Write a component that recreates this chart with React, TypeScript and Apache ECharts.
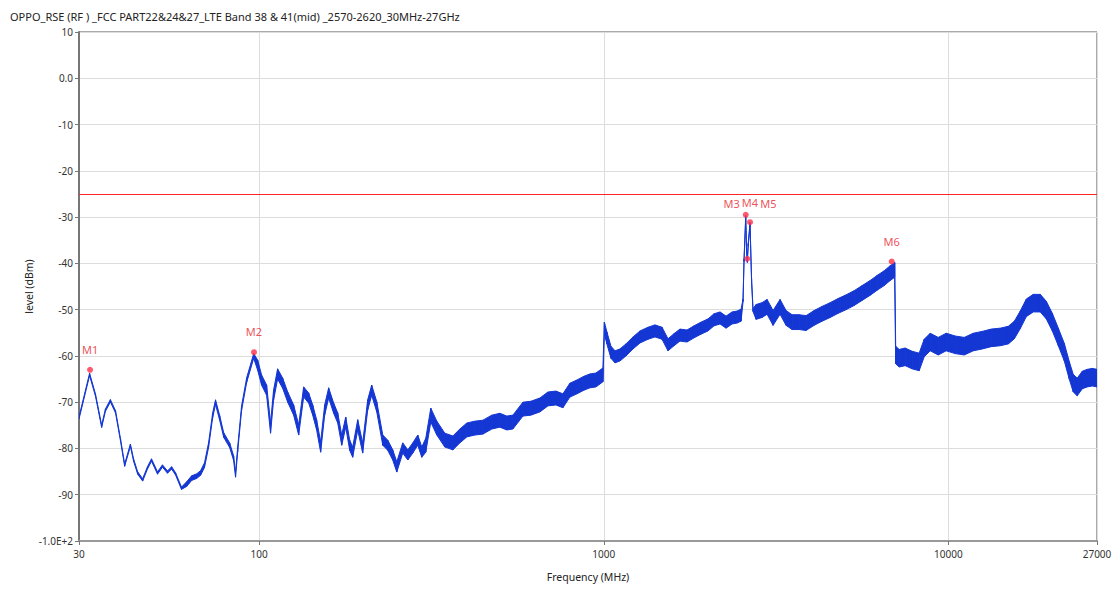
import React, { useEffect, useRef } from "react";
import * as echarts from "echarts";

const titleText =
  "OPPO_RSE (RF ) _FCC PART22&24&27_LTE Band 38 & 41(mid) _2570-2620_30MHz-27GHz";

// Trace: frequency (MHz) and centre level (dBm)
const freqMHz = [
  30, 32.2, 33.5, 34.9, 35.8, 37.0, 38.3, 39.6, 40.7, 42.3,
  43.2, 44.4, 45.9, 47.4, 48.7, 50.7, 52.4, 54.2, 55.7, 57.2,
  59.5, 61.6, 63.7, 65.8, 67.6, 69.4, 71.3, 73.3, 74.7, 76.8,
  78.9, 82.1, 84.3, 85.4, 86.6, 88.9, 92.0, 96.4, 99.0, 101.6,
  105.1, 107.9, 110.1, 113.1, 117.0, 121.0, 125.9, 130.2, 134.6, 139.2,
  143.0, 146.8, 150.8, 154.9, 159.1, 164.5, 169.0, 173.6, 178.3, 183.1,
  186.8, 193.2, 199.7, 206.5, 212.1, 219.4, 228.4, 236.1, 244.1, 250.8,
  261.0, 270.0, 279.1, 288.6, 296.4, 304.4, 314.8, 327.7, 345.7, 364.9,
  382.3, 400.6, 422.6, 445.8, 473.4, 499.4, 523.2, 544.8, 582.7, 614.4,
  652.7, 688.6, 726.3, 761.0, 797.4, 835.8, 876.0, 911.8, 949.0, 994.3,
  1004, 1021, 1049, 1078, 1114, 1160, 1216, 1274, 1344, 1408,
  1476, 1536, 1599, 1664, 1744, 1828, 1915, 2007, 2089, 2175,
  2264, 2357, 2437, 2503, 2536, 2553, 2582, 2596, 2610, 2625,
  2657, 2685, 2711, 2767, 2880, 2978, 3100, 3248, 3381, 3519,
  3688, 3865, 4077, 4301, 4538, 4787, 5051, 5329, 5621, 5931,
  6215, 6513, 6781, 6987, 7033, 7199, 7494, 7850, 8228, 8509,
  8858, 9345, 9858, 10470, 11120, 11810, 12540, 13320, 14150, 14930,
  15540, 16170, 16840, 17640, 18480, 19240, 20030, 20850, 21700, 22430,
  23040, 23660, 24480, 25310, 26170, 27000,
];

const levelDbm = [
  -73.4, -64.0, -68.5, -75.2, -71.7, -69.7, -72.1, -78.2, -83.6, -79.3,
  -82.5, -85.3, -86.8, -84.2, -82.5, -85.3, -83.8, -85.1, -84.2, -85.5,
  -88.6, -87.7, -86.4, -86.0, -85.3, -83.6, -79.3, -72.8, -70.0, -73.4,
  -77.1, -79.3, -82.1, -85.7, -80.3, -71.3, -65.2, -60.0, -62.0, -65.2,
  -67.4, -75.6, -68.5, -63.9, -65.9, -68.9, -71.7, -76.0, -67.8, -69.1,
  -71.7, -74.9, -79.7, -71.7, -68.0, -71.3, -73.4, -78.2, -74.3, -79.3,
  -80.8, -74.9, -79.9, -70.6, -67.4, -71.0, -78.2, -79.3, -81.4, -84.0,
  -79.9, -81.4, -79.9, -78.2, -80.8, -79.3, -72.8, -75.6, -78.2, -78.8,
  -77.3, -76.0, -75.6, -75.4, -74.3, -73.9, -74.5, -74.3, -71.5, -71.3,
  -70.6, -69.3, -69.1, -69.7, -67.4, -66.7, -65.9, -65.4, -65.2, -64.1,
  -54.0, -56.1, -59.2, -60.2, -59.8, -58.7, -57.2, -55.9, -55.1, -54.6,
  -55.1, -57.6, -56.5, -55.5, -55.7, -54.8, -54.0, -53.3, -52.2, -51.8,
  -52.7, -51.8, -51.6, -51.2, -48.0, -39.3, -30.0, -37.1, -39.5, -36.0,
  -31.5, -43.6, -50.1, -50.5, -50.1, -49.4, -51.8, -49.4, -51.8, -52.7,
  -52.7, -52.9, -51.8, -50.9, -50.1, -49.2, -48.4, -47.5, -46.4, -45.3,
  -44.2, -43.2, -42.1, -41.4, -59.8, -60.5, -60.2, -60.9, -61.3, -58.3,
  -57.0, -57.9, -57.0, -57.6, -57.9, -57.0, -56.6, -56.1, -55.9, -55.5,
  -54.4, -52.2, -49.6, -48.6, -48.6, -50.1, -52.7, -55.9, -59.2, -63.1,
  -65.9, -66.7, -65.2, -64.8, -64.6, -64.8,
];

// Thickness of the noisy trace (half width, dB) per frequency range
const noiseBandUpToMHz = [60, 97, 300, 1000, 2520, 2720, 7010, 27000];
const noiseHalfWidthDb = [0.25, 0.5, 1.1, 1.5, 1.3, 0.3, 1.6, 1.9];

// Markers
const markerNames = ["M1", "M2", "M3", "M4", "M5", "M6"];
const markerFreqMHz = [32.3, 96.6, 2582, 2657, 2610, 6847];
const markerLevelDbm = [-63.0, -59.2, -29.5, -31.1, -39.0, -39.6];

// Limit line
const limitDbm = -25;

// Axis ticks
const yTickValues = [10, 0, -10, -20, -30, -40, -50, -60, -70, -80, -90, -100];
const yTickLabels = ["10", "0.0", "-10", "-20", "-30", "-40", "-50", "-60", "-70", "-80", "-90", "-1.0E+2"];

const BLUE = "#1437d4";
const RED = "#ff2424";

function halfWidthAt(f: number): number {
  for (let i = 0; i < noiseBandUpToMHz.length; i++) {
    if (f <= noiseBandUpToMHz[i]) return noiseHalfWidthDb[i];
  }
  return noiseHalfWidthDb[noiseHalfWidthDb.length - 1];
}

const labelShift: Record<string, [number, number]> = {
  M3: [-14, 9],
  M4: [0, 1],
  M5: [21, -35],
};

export default function App() {
  const ref = useRef<HTMLDivElement>(null);

  useEffect(() => {
    document.body.style.margin = "0";
    if (!ref.current) return;
    const chart = echarts.init(ref.current, null, { renderer: "svg" });

    const traceData = freqMHz.map((f, i) => [f, levelDbm[i]]);
    const markerData = markerNames.map((n, i) => {
      const item: any = { name: n, value: [markerFreqMHz[i], markerLevelDbm[i]] };
      if (labelShift[n]) item.label = { offset: labelShift[n] };
      return item;
    });

    const font = "Noto Sans";

    chart.setOption({
      animation: false,
      backgroundColor: "#ffffff",
      textStyle: { fontFamily: font },
      title: {
        text: titleText,
        left: 5,
        top: 6,
        textStyle: { fontSize: 11, fontWeight: "normal", color: "#222", fontFamily: font },
      },
      grid: {
        left: 79,
        right: 23,
        top: 32,
        bottom: 49,
        show: true,
        borderColor: "#555",
        borderWidth: 1,
      },
      xAxis: {
        type: "log",
        logBase: 10,
        min: 30,
        max: 27000,
        name: "Frequency (MHz)",
        nameLocation: "middle",
        nameGap: 30,
        nameTextStyle: { fontSize: 10.5, color: "#222", fontFamily: font },
        axisLine: { show: true, onZero: false, lineStyle: { color: "#999", width: 2 } },
        axisTick: { show: true, length: 4, lineStyle: { color: "#777" } },
        axisLabel: {
          fontSize: 10,
          color: "#333",
          margin: 8,
          showMinLabel: true,
          showMaxLabel: true,
          formatter: (v: number) => String(Math.round(v)),
        },
        splitLine: { show: true, lineStyle: { color: "#dcdcdc", width: 1 } },
        minorTick: { show: false },
        minorSplitLine: { show: false },
      },
      yAxis: {
        type: "value",
        min: -100,
        max: 10,
        interval: 10,
        name: "level (dBm)",
        nameLocation: "middle",
        nameGap: 45,
        nameMoveOverlap: false,
        nameTextStyle: { fontSize: 10.5, color: "#222", fontFamily: font },
        axisLine: { show: true, onZero: false, lineStyle: { color: "#777", width: 2 } },
        axisTick: { show: true, length: 4, lineStyle: { color: "#777" } },
        axisLabel: {
          fontSize: 10,
          color: "#333",
          margin: 6,
          formatter: (v: number) => {
            const idx = yTickValues.indexOf(Math.round(v));
            return idx >= 0 ? yTickLabels[idx] : String(v);
          },
        },
        splitLine: { show: true, lineStyle: { color: "#dcdcdc", width: 1 } },
      },
      series: [
        {
          name: "trace",
          type: "custom",
          data: traceData,
          encode: { x: 0, y: 1 },
          clip: true,
          silent: true,
          z: 3,
          renderItem: (params: any, api: any) => {
            const i = params.dataIndex;
            if (i >= freqMHz.length - 1) return null;
            const f0 = freqMHz[i];
            const f1 = freqMHz[i + 1];
            const h0 = halfWidthAt(f0);
            const h1 = halfWidthAt(f1);
            const pts = [
              api.coord([f0, levelDbm[i] + h0]),
              api.coord([f1, levelDbm[i + 1] + h1]),
              api.coord([f1, levelDbm[i + 1] - h1]),
              api.coord([f0, levelDbm[i] - h0]),
            ];
            return {
              type: "polygon",
              shape: { points: pts },
              style: { fill: BLUE, stroke: BLUE, lineWidth: 1 },
            };
          },
        },
        {
          name: "markers",
          type: "scatter",
          data: markerData,
          symbol: "circle",
          symbolSize: 6,
          itemStyle: { color: "#ff3048" },
          z: 5,
          label: {
            show: true,
            position: "top",
            distance: 12,
            formatter: "{b}",
            color: "#e8242c",
            fontSize: 11,
            fontFamily: font,
          },
          markLine: {
            silent: true,
            symbol: "none",
            label: { show: false },
            lineStyle: { color: RED, width: 1, type: "solid" },
            data: [{ yAxis: limitDbm }],
          },
        },
      ],
    });

    return () => chart.dispose();
  }, []);

  return <div ref={ref} style={{ width: 1120, height: 590 }} />;
}
